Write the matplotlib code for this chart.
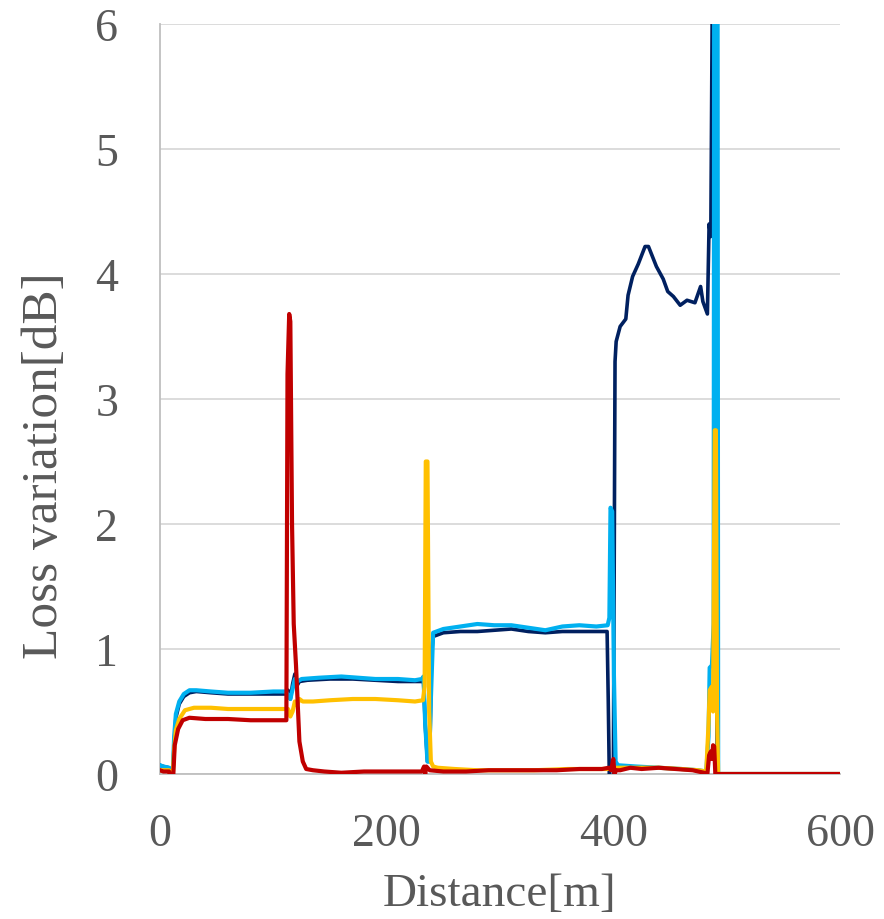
import matplotlib
matplotlib.use("Agg")
import matplotlib.pyplot as plt

# ---- data ----
navy_x = [0, 3, 8, 9.5, 11, 12.5, 14, 17, 21, 26, 32, 45, 60, 80, 100, 111, 113, 115, 117, 119, 120.5, 123, 130, 150, 170, 190, 210, 225, 231,
          232.5, 234, 236, 238, 239.5, 241, 250, 265, 280, 295, 310, 325, 340, 355, 370, 385, 394.5, 395.5, 396.5, 400, 401.5, 402.5,
          406, 411, 413, 417, 422, 428, 431, 438, 444, 448, 453, 459, 465, 472, 477, 479, 483, 484.5, 486, 487.5, 489, 490.5, 491.5, 600]
navy_y = [0.07, 0.06, 0.05, -0.05, -0.05, 0.25, 0.45, 0.56, 0.62, 0.65, 0.66, 0.65, 0.64, 0.64, 0.64, 0.64, 0.67, 0.60, 0.72, 0.80, 0.70, 0.74, 0.75, 0.76, 0.76, 0.75, 0.74, 0.74, 0.74,
          0.75, 0.40, 0.10, 0.10, 0.95, 1.10, 1.13, 1.14, 1.14, 1.15, 1.16, 1.14, 1.13, 1.14, 1.14, 1.14, 1.14, 0.60, -0.05, -0.05, 3.30, 3.46,
          3.58, 3.64, 3.83, 3.98, 4.08, 4.22, 4.22, 4.06, 3.96, 3.86, 3.82, 3.75, 3.79, 3.77, 3.90, 3.78, 3.68, 4.40, 4.30, 6.5, 12.0, 12.0, 0.0, 0.0]

blue_x = [0, 3, 8, 9.5, 11, 12.5, 14, 17, 21, 26, 32, 45, 60, 80, 100, 111, 113, 115, 117, 119, 121, 125, 140, 160, 175, 190, 210, 225, 231,
          232.5, 234, 236, 237.5, 239, 241, 250, 265, 280, 295, 310, 325, 340, 355, 370, 385, 395, 396.5, 397.5, 399, 400.5, 402, 404,
          420, 440, 460, 475, 482, 484, 485, 487, 488.5, 489.5, 491.5, 492.5, 600]
blue_y = [0.07, 0.06, 0.05, -0.05, -0.05, 0.30, 0.48, 0.58, 0.64, 0.67, 0.67, 0.66, 0.65, 0.65, 0.66, 0.66, 0.63, 0.60, 0.68, 0.76, 0.74, 0.76, 0.77, 0.78, 0.77, 0.76, 0.76, 0.75, 0.76,
          0.78, 0.40, 0.10, 0.10, 0.60, 1.13, 1.16, 1.18, 1.20, 1.19, 1.19, 1.17, 1.15, 1.18, 1.19, 1.18, 1.19, 1.25, 2.13, 2.10, 0.80, 0.10, 0.07,
          0.06, 0.05, 0.04, 0.03, 0.02, 0.30, 0.85, 0.87, 1.2, 12.0, 12.0, 0.0, 0.0]

yellow_x = [0, 3, 8, 9.5, 11, 12.5, 14, 17, 22, 30, 45, 60, 80, 100, 111, 113, 115, 117, 119, 121, 123, 126, 135, 150, 170, 190, 210, 225, 232,
            233.5, 234.5, 236, 237.5, 239, 241, 245, 260, 280, 300, 330, 360, 380, 395, 398, 402, 420, 440, 460, 475, 482,
            484, 485, 487, 488, 489.5, 490.5, 491.5, 492.5, 600]
yellow_y = [0.03, 0.03, 0.03, -0.05, -0.05, 0.20, 0.35, 0.44, 0.51, 0.53, 0.53, 0.52, 0.52, 0.52, 0.52, 0.52, 0.46, 0.50, 0.58, 0.55, 0.60, 0.58, 0.58, 0.59, 0.60, 0.60, 0.59, 0.58, 0.59,
            0.70, 2.50, 2.50, 0.50, 0.10, 0.06, 0.05, 0.04, 0.03, 0.03, 0.03, 0.04, 0.04, 0.04, 0.05, 0.05, 0.05, 0.05, 0.04, 0.03, 0.02,
            0.40, 0.67, 0.70, 0.50, 2.75, 2.75, 0.50, 0.0, 0.0]

red_x = [0, 3, 8, 9.5, 11.5, 13, 16, 20, 26, 40, 60, 80, 100, 111.5, 112.5, 114, 115, 116.5, 118, 120, 123, 126, 129, 135, 145, 160, 180, 200,
         220, 231, 233, 234, 235, 238, 250, 270, 290, 310, 330, 350, 370, 390, 396, 398, 400, 401, 402.5, 406, 415, 425, 440, 455, 470,
         480, 483, 484.5, 486, 487, 488, 489, 490, 600]
red_y = [0.03, 0.02, 0.02, -0.05, -0.05, 0.23, 0.36, 0.43, 0.45, 0.44, 0.44, 0.43, 0.43, 0.43, 3.20, 3.68, 3.62, 2.00, 1.20, 0.87, 0.26, 0.10, 0.04, 0.03, 0.02, 0.01, 0.02, 0.02,
         0.02, 0.02, 0.06, 0.0, 0.06, 0.03, 0.02, 0.02, 0.03, 0.03, 0.03, 0.03, 0.04, 0.04, 0.05, 0.03, 0.12, 0.0, 0.03, 0.03, 0.05, 0.04, 0.05, 0.04, 0.03,
         0.01, 0.0, 0.15, 0.18, 0.12, 0.23, 0.22, 0.0, 0.0]

x_ticks = [0, 200, 400, 600]
y_ticks = [0, 1, 2, 3, 4, 5, 6]
x_label = "Distance[m]"
y_label = "Loss variation[dB]"

# ---- figure ----
fig = plt.figure(figsize=(8.84, 9.2), dpi=100)
ax = fig.add_axes([160/884, 1-775/920, 680/884, 750/920])

ax.plot(navy_x, navy_y, color="#002060", lw=2.6, solid_joinstyle="round", zorder=3)
ax.plot(blue_x, blue_y, color="#00B0F0", lw=3.0, solid_joinstyle="round", zorder=4)
ax.plot(yellow_x, yellow_y, color="#FFC000", lw=3.0, solid_joinstyle="round", zorder=5)
ax.plot(red_x, red_y, color="#C00000", lw=3.0, solid_joinstyle="round", zorder=6)

ax.set_xlim(0, 600)
ax.set_ylim(0, 6)
ax.set_xticks(x_ticks)
ax.set_yticks(y_ticks)
ax.grid(axis="y", color="#D9D9D9", lw=1.3, zorder=0)
ax.set_axisbelow(True)
for s in ["top", "right"]:
    ax.spines[s].set_visible(False)
for s in ["left", "bottom"]:
    ax.spines[s].set_color("#BFBFBF")
    ax.spines[s].set_linewidth(1.3)

font = "Liberation Serif"
tc = "#595959"
ax.tick_params(length=0, labelsize=33, labelcolor=tc)
ax.tick_params(axis="y", pad=30)
ax.tick_params(axis="x", pad=28)
for lab in ax.get_xticklabels() + ax.get_yticklabels():
    lab.set_fontfamily(font)

fig.text(500/884, 1-895/920, x_label, ha="center", va="center", fontsize=34, color=tc, family=font)
fig.text(45/884, 1-466/920, y_label, ha="center", va="center", rotation=90, fontsize=37, color=tc, family=font)

fig.savefig("out.png", dpi=100)
